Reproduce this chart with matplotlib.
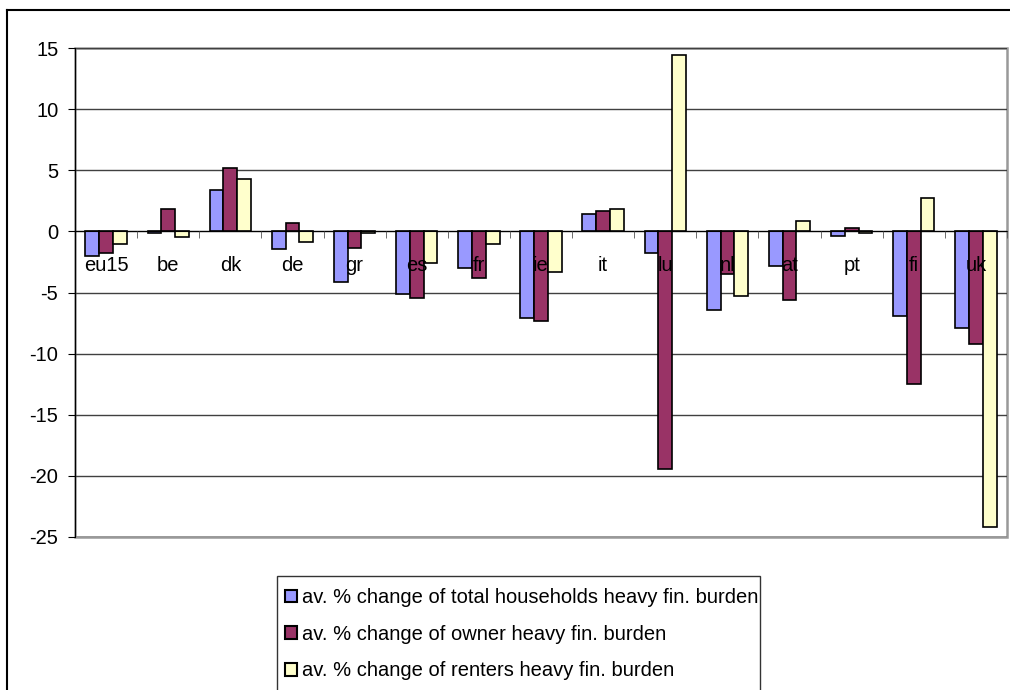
import numpy as np
import matplotlib
matplotlib.use('Agg')
import matplotlib.pyplot as plt
from matplotlib.patches import Rectangle, Patch
from matplotlib.lines import Line2D

plt.rcParams['font.family'] = ['Liberation Sans', 'DejaVu Sans']
plt.rcParams['axes.unicode_minus'] = False

# data
countries = ['eu15', 'be', 'dk', 'de', 'gr', 'es', 'fr', 'ie', 'it', 'lu',
             'nl', 'at', 'pt', 'fi', 'uk']
total_hh = [-2.0, -0.15, 3.4, -1.45, -4.15, -5.15, -3.0, -7.05, 1.4, -1.8,
            -6.45, -2.85, -0.4, -6.9, -7.9]
owners = [-1.75, 1.85, 5.15, 0.7, -1.4, -5.45, -3.85, -7.3, 1.7, -19.4,
          -3.45, -5.6, 0.25, -12.5, -9.2]
renters = [-1.0, -0.45, 4.3, -0.85, -0.1, -2.55, -1.0, -3.3, 1.85, 14.45,
           -5.3, 0.85, -0.15, 2.7, -24.2]
series_labels = ['av. % change of total households heavy fin. burden',
                 'av. % change of owner heavy fin. burden',
                 'av. % change of renters heavy fin. burden']
colors = ['#9999FF', '#993366', '#FFFFCC']

W, H = 1010, 690
fig = plt.figure(figsize=(W / 100, H / 100), dpi=100)
ax = fig.add_axes([75 / W, 1 - 537 / H, 932 / W, 489 / H])

x = np.arange(len(countries))
bw = 0.222
for i, (vals, c) in enumerate(zip([total_hh, owners, renters], colors)):
    ax.bar(x + (i - 1) * bw, vals, width=bw, color=c, edgecolor='black',
           linewidth=1.2, zorder=3)

ax.set_xlim(-0.5, len(countries) - 0.5)
ax.set_ylim(-25, 15)
ax.set_yticks(np.arange(-25, 16, 5))
ax.grid(axis='y', color='#404040', linewidth=1, zorder=0)

# category axis sits at zero, labels drawn over the bars
ax.spines['bottom'].set_position(('data', 0))
ax.spines['bottom'].set_color('black')
ax.spines['bottom'].set_zorder(4)
ax.spines['left'].set_color('black')
for s in ['top', 'right']:
    ax.spines[s].set_visible(False)
ax.xaxis.set_zorder(10)
# gray plot-area frame
ax.add_patch(Rectangle((0, 0), 1, 1, transform=ax.transAxes, fill=False,
                       edgecolor='#999999', linewidth=1.8, zorder=1,
                       clip_on=False))
ax.axvline(-0.5, color='black', linewidth=1.2, zorder=5)

ax.set_xticks(x)
ax.set_xticklabels(countries)
ax.set_xticks(np.arange(0.5, len(countries), 1), minor=True)
ax.tick_params(axis='x', which='major', length=0, pad=18, labelsize=14.5)
ax.tick_params(axis='x', which='minor', length=5, direction='out',
               color='#555555')
ax.tick_params(axis='y', length=5, direction='out', pad=7, labelsize=14.5)

# outer chart frame (left and top edges only visible)
fig.add_artist(Line2D([7 / W, 7 / W], [0, 1 - 10 / H], color='black',
                      linewidth=1.5, transform=fig.transFigure))
fig.add_artist(Line2D([7 / W, 1], [1 - 10 / H, 1 - 10 / H], color='black',
                      linewidth=1.5, transform=fig.transFigure))

# legend box running past the bottom edge
fig.add_artist(Rectangle((277 / W, -0.05), 483 / W, 1 - 576 / H + 0.05,
                         transform=fig.transFigure, fill=False,
                         edgecolor='#333333', linewidth=1))
handles = [Patch(facecolor=c, edgecolor='black', linewidth=1.5) for c in colors]
fig.legend(handles, series_labels, loc='upper left',
           bbox_to_anchor=(285 / W, 1 - 588 / H), frameon=False,
           fontsize=14.5, handlelength=0.6, handleheight=0.6,
           handletextpad=0.22, labelspacing=0.88, borderpad=0,
           borderaxespad=0)

fig.savefig('out.png', dpi=100)
